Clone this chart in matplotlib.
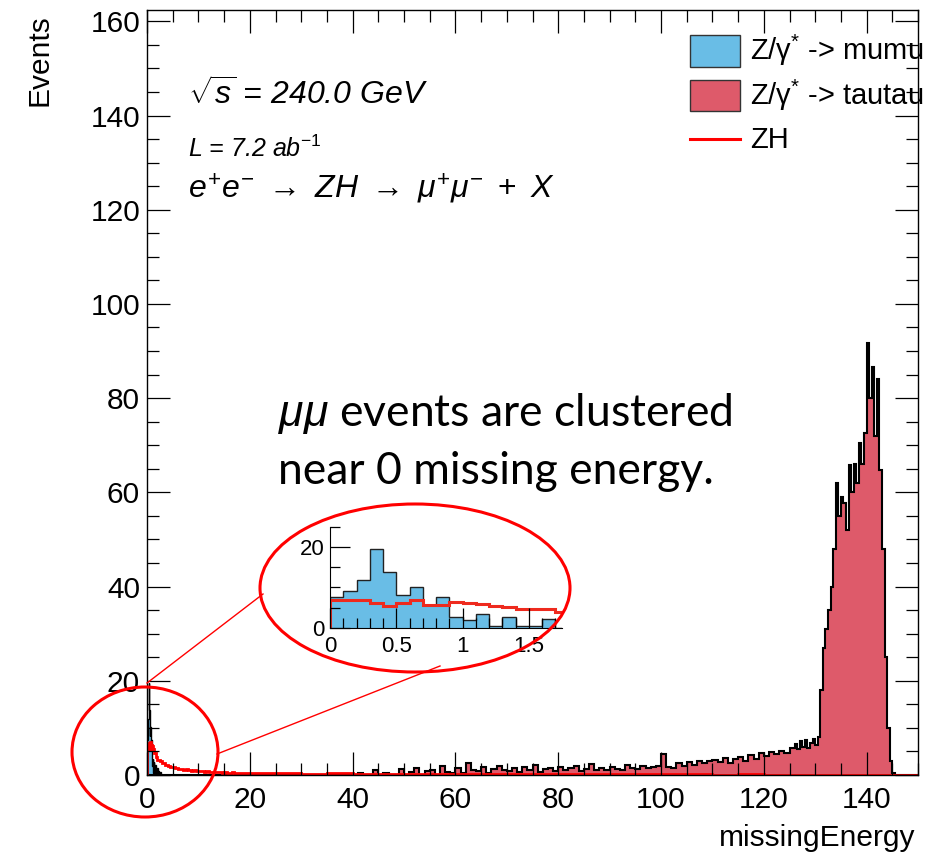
import numpy as np
import matplotlib.pyplot as plt
from matplotlib.patches import Ellipse, Rectangle
from matplotlib.lines import Line2D
from matplotlib.ticker import MultipleLocator, FuncFormatter

plt.rcParams['font.family'] = ['Liberation Sans', 'DejaVu Sans']
plt.rcParams['mathtext.fontset'] = 'custom'
plt.rcParams['mathtext.rm'] = 'Liberation Sans'
plt.rcParams['mathtext.it'] = 'Liberation Sans:italic'

# ---- data ----
# Z/gamma* -> mumu, 0.1 GeV bins from 0 to 3
mumu_edges = np.linspace(0, 3, 31)
mumu = [7.5, 9.1, 11.9, 19.5, 13.9, 8.2, 10.2, 5.6, 7.5, 2.7,
        1.9, 3.3, 0.4, 2.7, 0.4, 0.4, 2.2, 0.0, 1.0, 0.4,
        1.5, 0.0, 0.8, 0.0, 0.4, 0.0, 0.6, 0.0, 0.0, 0.3]

# Z/gamma* -> tautau, 1 GeV bins to 126, 0.5 GeV bins to 146, 1 GeV to 150
tautau_edges = np.concatenate([np.linspace(0, 126, 127),
                               np.linspace(126.5, 146, 40),
                               np.linspace(147, 150, 4)])
tautau = [0, 0, 0, 0, 0, 0, 0, 0, 0, 0,
          0, 0, 0, 0, 0, 0, 0, 0, 0, 0,
          0, 0, 0, 0, 0, 0, 0, 0, 0, 0,
          0, 0, 0, 0, 0, 0, 0, 0, 0.3, 0,
          0, 0.5, 0, 0, 1.0, 0, 0.5, 0, 0, 1.2,
          0, 0.6, 1.5, 0, 0.8, 1.0, 0, 2.0, 0.7, 0.5,
          1.5, 0.5, 2.5, 1.0, 0.8, 1.6, 0.5, 1.2, 2.0, 1.0,
          0.8, 1.5, 0.6, 1.8, 1.0, 2.2, 0.7, 1.3, 1.5, 0.9,
          1.6, 1.0, 1.4, 2.0, 0.8, 1.2, 2.4, 1.0, 1.5, 1.1,
          1.8, 1.2, 1.0, 2.2, 1.5, 1.3, 2.0, 1.4, 1.6, 1.9,
          4.5, 1.8, 1.5, 2.6, 2.0, 2.8, 2.2, 3.0, 2.5, 2.9,
          3.2, 2.8, 3.6, 2.6, 3.4, 3.8, 3.0, 4.2, 3.5, 4.6,
          4.0, 4.8, 4.4, 5.2, 4.6, 5.8,
          # 0.5 GeV bins 126 - 146
          6.5, 5.5, 7.2, 6.0, 7.5, 5.8, 6.8, 7.6, 6.4, 8.0,
          18.0, 27.0, 31.0, 35.0, 40.0, 48.0, 62.0, 55.0, 59.0, 57.7,
          52.0, 65.8, 60.0, 66.0, 62.0, 70.5, 66.0, 72.6, 91.8, 80.0,
          86.7, 72.0, 84.0, 64.7, 48.0, 25.0, 10.0, 3.0, 0.5, 0.0,
          0, 0, 0, 0]

# ZH signal (line)
zh_edges = np.concatenate([np.linspace(0, 2, 21),
                           np.linspace(2.5, 20, 36),
                           np.linspace(25, 150, 26)])
zh = [6.8, 6.8, 6.8, 6.2, 5.4, 6.2, 7.0, 5.6, 5.6, 6.5,
      6.1, 5.9, 5.5, 5.1, 4.7, 4.7, 4.7, 3.9, 3.9, 3.6,
      3.2, 2.9, 2.5, 2.2, 2.0, 1.7, 1.6, 1.5, 1.3, 1.2,
      1.1, 1.2, 1.0, 0.9, 1.0, 0.8, 0.9, 0.8, 0.7, 0.8,
      0.7, 0.6, 0.7, 0.6, 0.6, 0.5, 0.6, 0.5, 0.5, 0.6,
      0.4, 0.5, 0.4, 0.5, 0.4, 0.4,
      0.4, 0.4, 0.3, 0.35, 0.3, 0.3, 0.25, 0.3, 0.25, 0.2,
      0.25, 0.2, 0.2, 0.2, 0.15, 0.2, 0.15, 0.15, 0.1, 0.15,
      0.1, 0.1, 0.1, 0.1, 0.05, 0.05]

blue = '#69bde6'
rose = '#de5a6a'

W, H = 943, 857


def fx(x):
    return x / W


def fy(y):
    return 1 - y / H


fig = plt.figure(figsize=(9.43, 8.57), dpi=100)

# ---- main plot ----
ax = fig.add_axes([fx(147), fy(775), (918 - 147) / W, (775 - 10) / H])
ax.stairs(mumu, mumu_edges, fill=True, facecolor=blue, edgecolor='none')
ax.stairs(mumu, mumu_edges, color='black', lw=1.0)
ax.stairs(tautau, tautau_edges, fill=True, facecolor=rose, edgecolor='none')
ax.stairs(tautau, tautau_edges, color='black', lw=1.5)
ax.stairs(zh, zh_edges, color='red', lw=2.0)

ax.set_xlim(0, 150)
ax.set_ylim(0, 162.4)
ax.xaxis.set_major_locator(MultipleLocator(20))
ax.xaxis.set_minor_locator(MultipleLocator(5))
ax.yaxis.set_major_locator(MultipleLocator(20))
ax.yaxis.set_minor_locator(MultipleLocator(5))
ax.tick_params(which='both', direction='in', top=True, right=True, width=0.9)
ax.tick_params(which='major', length=16.5, labelsize=21.5)
ax.tick_params(axis='x', which='major', pad=8)
ax.tick_params(axis='y', which='major', pad=5)
ax.tick_params(which='minor', length=8.6)
for s in ax.spines.values():
    s.set_linewidth(1.0)

fig.text(fx(40), fy(14), 'Events', rotation=90, ha='center', va='top', fontsize=21.5)
fig.text(fx(915), fy(838), 'missingEnergy', ha='right', va='center', fontsize=21.5)

# text block
fig.text(fx(188), fy(105), r'$\sqrt{s}$ = 240.0 GeV', fontsize=23, style='italic', va='baseline')
fig.text(fx(188), fy(157), r'L = 7.2 ab$^{-1}$', fontsize=18, style='italic', va='baseline')
fig.text(fx(188), fy(198), r'$e^{+}e^{-}\ \rightarrow\ ZH\ \rightarrow\ \mu^{+}\mu^{-}\ +\ X$',
         fontsize=23, va='baseline')

# legend
fig.add_artist(Rectangle((fx(690), fy(67)), 50 / W, 32 / H, transform=fig.transFigure,
                         facecolor=blue, edgecolor='#333333', lw=1.0))
fig.add_artist(Rectangle((fx(690), fy(111)), 50 / W, 31 / H, transform=fig.transFigure,
                         facecolor=rose, edgecolor='#333333', lw=1.0))
fig.add_artist(Line2D([fx(690), fx(740)], [fy(139), fy(139)], transform=fig.transFigure,
                      color='red', lw=2.2))
fig.text(fx(750), fy(60), r'Z/$\mathrm{\gamma}^{*}$ -> mumu', fontsize=21, va='baseline')
fig.text(fx(750), fy(105), r'Z/$\mathrm{\gamma}^{*}$ -> tautau', fontsize=21, va='baseline')
fig.text(fx(750), fy(148), 'ZH', fontsize=21, va='baseline')

# ---- inset ----
axins = fig.add_axes([fx(330), fy(627.7), 232 / W, 100.7 / H])
axins.stairs(mumu, mumu_edges, fill=True, facecolor=blue, edgecolor='none')
axins.stairs(mumu, mumu_edges, color='#222222', lw=1.0)
axins.stairs(zh, zh_edges, color='#ee2a1e', lw=2.2)
axins.set_xlim(0, 1.75)
axins.set_ylim(0, 25)
axins.spines['top'].set_visible(False)
axins.spines['right'].set_visible(False)
axins.xaxis.set_major_locator(MultipleLocator(0.5))
axins.xaxis.set_minor_locator(MultipleLocator(0.1))
axins.yaxis.set_major_locator(MultipleLocator(20))
axins.yaxis.set_minor_locator(MultipleLocator(5))
axins.xaxis.set_major_formatter(FuncFormatter(lambda v, p: '%g' % v))
axins.tick_params(which='both', direction='in', width=0.9)
axins.tick_params(which='major', length=14.4, labelsize=16)
axins.tick_params(which='minor', length=7.2)
axins.tick_params(axis='x', pad=6)
axins.tick_params(axis='y', pad=4)

# ---- annotation ----
fig.add_artist(Ellipse((fx(415), fy(588)), 310 / W, 168 / H, transform=fig.transFigure,
                       fill=False, edgecolor='red', lw=2.2, zorder=10))
fig.add_artist(Ellipse((fx(145), fy(752)), 146 / W, 130 / H, transform=fig.transFigure,
                       fill=False, edgecolor='red', lw=2.2, zorder=10))
fig.add_artist(Line2D([fx(147), fx(263)], [fy(683), fy(594)], transform=fig.transFigure,
                      color='red', lw=1.0, zorder=10))
fig.add_artist(Line2D([fx(217), fx(440)], [fy(754), fy(666)], transform=fig.transFigure,
                      color='red', lw=1.0, zorder=10))

fig.text(fx(278), fy(426), r'$\mu\mu$ events are clustered', fontsize=32,
         family=['Lato', 'DejaVu Sans'], va='baseline')
fig.text(fx(278), fy(484), 'near 0 missing energy.', fontsize=32,
         family=['Lato', 'DejaVu Sans'], va='baseline')

fig.savefig('out.png', dpi=100)
